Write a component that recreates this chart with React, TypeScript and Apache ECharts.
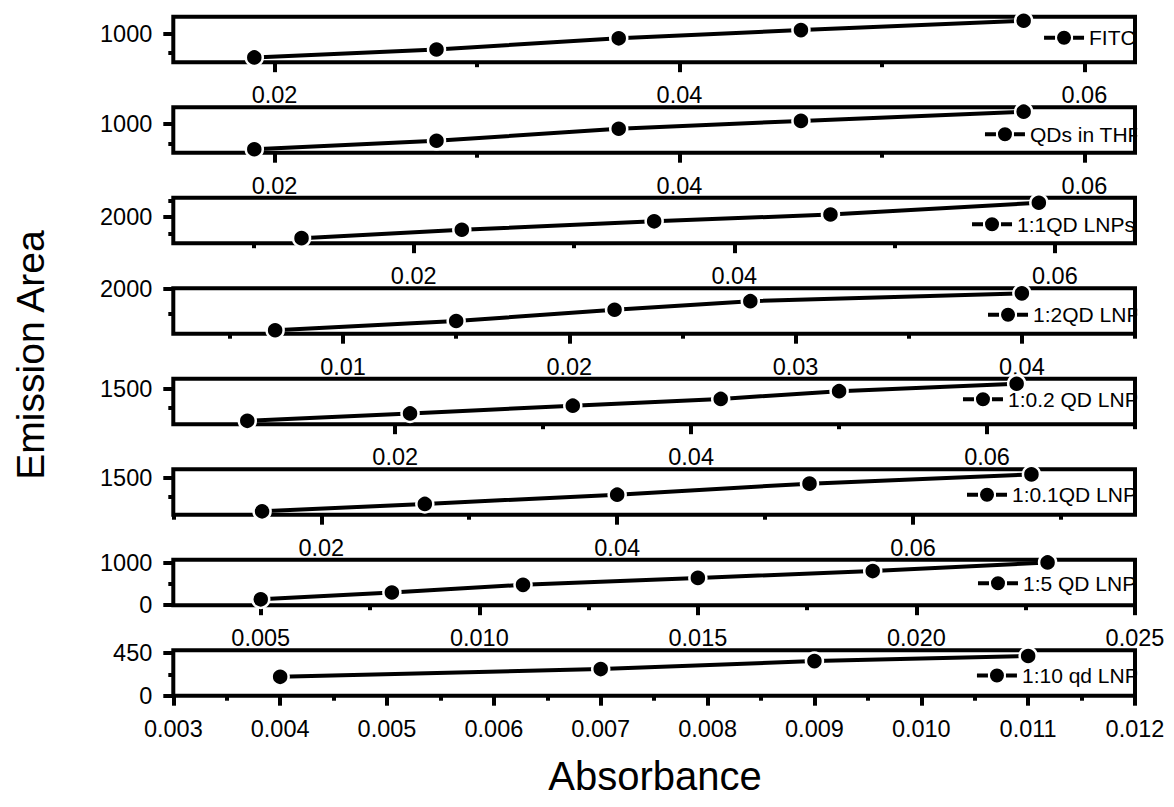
import React, { useEffect, useRef } from 'react';
import * as echarts from 'echarts';

const FONT = "'Liberation Sans', Arial, Helvetica, sans-serif";

// ---- series names (legend) ----
const seriesNames = ['FITC', 'QDs in THF', '1:1QD LNPs', '1:2QD LNP', '1:0.2 QD LNP', '1:0.1QD LNP', '1:5 QD LNP', '1:10 qd LNP'];

// ---- data (Absorbance, Emission Area) ----
const fitcX = [0.019, 0.028, 0.037, 0.046, 0.057];
const fitcY = [392, 595, 879, 1088, 1326];
const thfX = [0.019, 0.028, 0.037, 0.046, 0.057];
const thfY = [373, 582, 874, 1066, 1291];
const r11X = [0.013, 0.023, 0.035, 0.046, 0.059];
const r11Y = [1348, 1610, 1873, 2085, 2452];
const r12X = [0.007, 0.015, 0.022, 0.028, 0.040];
const r12Y = [1168, 1353, 1579, 1750, 1907];
const r102X = [0.010, 0.021, 0.032, 0.042, 0.050, 0.062];
const r102Y = [640, 839, 1047, 1228, 1436, 1635];
const r101X = [0.016, 0.027, 0.040, 0.053, 0.068];
const r101Y = [636, 826, 1063, 1345, 1582];
const r15X = [0.005, 0.008, 0.011, 0.015, 0.019, 0.023];
const r15Y = [139, 302, 483, 648, 810, 1015];
const r110X = [0.004, 0.007, 0.009, 0.011];
const r110Y = [199, 281, 365, 419];

// ---- axis ranges ----
const xMins = [0.015, 0.015, 0.005, 0.0025, 0.005, 0.01, 0.003, 0.003];
const xMaxs = [0.0625, 0.0625, 0.065, 0.045, 0.07, 0.075, 0.025, 0.012];
const yMins = [270, 290, 1190, 1100, 550, 550, 0, 0];
const yMaxs = [1430, 1400, 2610, 2010, 1770, 1715, 1080, 480];

// ---- tick labels ----
const xMajorTicks = [
  [0.02, 0.04, 0.06],
  [0.02, 0.04, 0.06],
  [0.02, 0.04, 0.06],
  [0.01, 0.02, 0.03, 0.04],
  [0.02, 0.04, 0.06],
  [0.02, 0.04, 0.06],
  [0.005, 0.010, 0.015, 0.020, 0.025],
  [0.003, 0.004, 0.005, 0.006, 0.007, 0.008, 0.009, 0.010, 0.011, 0.012],
];
const xMinorTicks = [
  [0.03, 0.05],
  [0.03, 0.05],
  [0.01, 0.03, 0.05],
  [0.005, 0.015, 0.025, 0.035, 0.045],
  [0.01, 0.03, 0.05, 0.07],
  [0.01, 0.03, 0.05, 0.07],
  [0.0075, 0.0125, 0.0175, 0.0225],
  [0.0035, 0.0045, 0.0055, 0.0065, 0.0075, 0.0085, 0.0095, 0.0105, 0.0115],
];
const xDecimals = [2, 2, 2, 2, 2, 2, 3, 3];
const yMajorTicks = [[1000], [1000], [2000], [2000], [1500], [1500], [0, 1000], [0, 450]];
const yMinorTicks = [[500], [500], [1500, 2500], [1500], [1000], [1000], [500], [225]];

const xValues = [fitcX, thfX, r11X, r12X, r102X, r101X, r15X, r110X];
const yValues = [fitcY, thfY, r11Y, r12Y, r102Y, r101Y, r15Y, r110Y];

// ---- layout ----
const GRID_LEFT = 173.3;
const GRID_WIDTH = 961.7;
const TOP0 = 16.7;
const PITCH = 90.5;
const GRID_H = 45.5;
const legendOffsets = [20.6, 26.5, 26, 26, 20, 25, 23, 24.8];
const legendRights = [38.3, 33.2, 39.1, 33.6, 35.3, 37.1, 37.8, 35.3];
const TICK_FONT = 23.5;
// line - dot - line legend glyph (40 x 14 box)
const LEGEND_ICON = 'path://M0 5H11V9H0Z M29 5H40V9H29Z M27 7A7 7 0 1 1 13 7A7 7 0 1 1 27 7Z';

export default function App() {
  const ref = useRef<HTMLDivElement>(null);

  useEffect(() => {
    if (!ref.current) return;
    const chart = echarts.init(ref.current, null, { renderer: 'svg' });

    const grid: any[] = [];
    const xAxis: any[] = [];
    const yAxis: any[] = [];
    const series: any[] = [];
    const legend: any[] = [];
    const covers: any[] = [];
    const tickLine = { color: '#000', width: 4 };

    seriesNames.forEach((name, i) => {
      const top = TOP0 + PITCH * i;
      grid.push({
        left: GRID_LEFT,
        width: GRID_WIDTH,
        top,
        height: GRID_H,
        show: true,
        borderColor: '#000',
        borderWidth: 4,
        backgroundColor: 'transparent',
        containLabel: false,
        outerBoundsMode: 'none',
      });
      const dec = xDecimals[i];
      xAxis.push({
        type: 'value',
        gridIndex: i,
        min: xMins[i],
        max: xMaxs[i],
        position: 'bottom',
        axisLine: { show: false },
        axisTick: { show: true, customValues: xMajorTicks[i], length: 10, lineStyle: tickLine },
        axisLabel: {
          show: true,
          customValues: xMajorTicks[i],
          formatter: (v: number) => v.toFixed(dec),
          fontSize: TICK_FONT,
          color: '#000',
          fontFamily: FONT,
          margin: 21,
        },
        splitLine: { show: false },
      });
      xAxis.push({
        type: 'value',
        gridIndex: i,
        min: xMins[i],
        max: xMaxs[i],
        position: 'top',
        offset: -GRID_H,
        axisLine: { show: false },
        axisTick: { show: true, inside: true, customValues: xMinorTicks[i], length: 5, lineStyle: tickLine },
        axisLabel: { show: false },
        splitLine: { show: false },
      });
      yAxis.push({
        type: 'value',
        gridIndex: i,
        min: yMins[i],
        max: yMaxs[i],
        position: 'left',
        axisLine: { show: false },
        axisTick: { show: true, customValues: yMajorTicks[i], length: 10, lineStyle: tickLine },
        axisLabel: {
          show: true,
          customValues: yMajorTicks[i],
          formatter: (v: number) => String(Math.round(v)),
          fontSize: TICK_FONT,
          color: '#000',
          fontFamily: FONT,
          margin: 21,
        },
        splitLine: { show: false },
      });
      yAxis.push({
        type: 'value',
        gridIndex: i,
        min: yMins[i],
        max: yMaxs[i],
        position: 'right',
        offset: -GRID_WIDTH,
        axisLine: { show: false },
        axisTick: { show: true, inside: true, customValues: yMinorTicks[i], length: 5, lineStyle: tickLine },
        axisLabel: { show: false },
        splitLine: { show: false },
      });
      series.push({
        type: 'line',
        name,
        xAxisIndex: 2 * i,
        yAxisIndex: 2 * i,
        data: xValues[i].map((x, k) => [x, yValues[i][k]]),
        symbol: 'circle',
        symbolSize: 17,
        lineStyle: { color: '#000', width: 4 },
        itemStyle: { color: '#000', borderColor: '#fff', borderWidth: 2.5 },
        emphasis: { disabled: true },
      });
      legend.push({
        data: [{ name, icon: LEGEND_ICON }],
        right: legendRights[i],
        top: top + legendOffsets[i] - 10,
        orient: 'horizontal',
        padding: 0,
        itemWidth: 40,
        itemHeight: 14,
        itemGap: 0,
        selectedMode: false,
        itemStyle: { color: '#000', borderWidth: 0 },
        textStyle: { fontSize: 21, color: '#000', fontFamily: FONT },
      });
      covers.push({
        type: 'rect',
        z: 100,
        shape: { x: GRID_LEFT + GRID_WIDTH + 2.2, y: top + 3, width: 40, height: GRID_H - 6 },
        style: { fill: '#fff' },
      });
    });

    chart.setOption({
      animation: false,
      backgroundColor: '#fff',
      grid,
      xAxis,
      yAxis,
      series,
      legend,
      graphic: [
        ...covers,
        {
          type: 'text',
          x: 655,
          y: 776,
          style: {
            text: 'Absorbance',
            fontSize: 40,
            fontFamily: FONT,
            fill: '#000',
            align: 'center',
            verticalAlign: 'middle',
          },
        },
        {
          type: 'text',
          x: 30,
          y: 355,
          rotation: Math.PI / 2,
          style: {
            text: 'Emission Area',
            fontSize: 39,
            fontFamily: FONT,
            fill: '#000',
            align: 'center',
            verticalAlign: 'middle',
          },
        },
      ],
    });

    return () => chart.dispose();
  }, []);

  return (
    <div
      ref={ref}
      style={{ position: 'absolute', left: 0, top: 0, width: 1174, height: 807 }}
    />
  );
}
